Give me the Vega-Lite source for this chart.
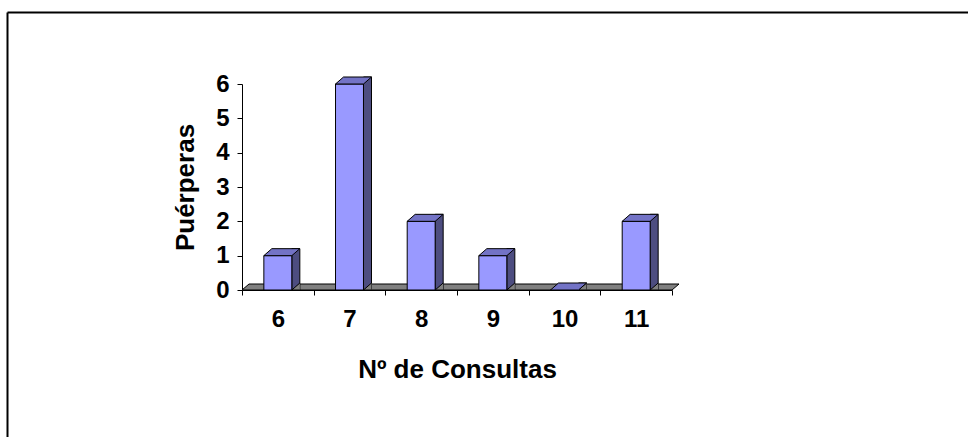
{
  "$schema": "https://vega.github.io/schema/vega-lite/v6.json",
  "width": 961,
  "height": 425,
  "autosize": {"type": "none"},
  "padding": {"left": 7, "top": 12, "right": 0, "bottom": 0},
  "background": "white",
  "config": {"view": {"stroke": null}, "font": "Liberation Sans"},
  "data": {"values": [
    {"consultas": 6, "puerperas": 1},
    {"consultas": 7, "puerperas": 6},
    {"consultas": 8, "puerperas": 2},
    {"consultas": 9, "puerperas": 1},
    {"consultas": 10, "puerperas": 0},
    {"consultas": 11, "puerperas": 2}
  ]},
  "resolve": {"scale": {"x": "independent", "y": "independent"}, "axis": {"x": "independent", "y": "independent"}},
  "layer": [
    {
      "mark": {"type": "point", "opacity": 0},
      "encoding": {
        "x": {"field": "puerperas", "type": "quantitative", "axis": {"orient": "top", "domain": true, "domainColor": "black", "domainWidth": 2, "ticks": false, "labels": false, "title": null, "grid": false}},
        "y": {"field": "puerperas", "type": "quantitative", "axis": {"orient": "left", "domain": true, "domainColor": "black", "domainWidth": 2, "ticks": false, "labels": false, "title": null, "grid": false}}
      }
    },
    {
      "encoding": {
        "x": {
          "field": "consultas", "type": "ordinal",
          "scale": {"range": [235, 665], "paddingInner": 0, "paddingOuter": 0},
          "axis": {"orient": "bottom", "offset": -147, "domainColor": "black", "domainWidth": 1, "tickColor": "black", "tickSize": 5, "tickBand": "extent", "labelAngle": 0, "labelFont": "Liberation Sans", "labelFontSize": 24, "labelFontWeight": "bold", "labelColor": "black", "labelPadding": 12, "title": "Nº de Consultas", "titleFont": "Liberation Sans", "titleFontSize": 26, "titleFontWeight": "bold", "titleColor": "black", "titlePadding": 25, "grid": false}
        },
        "y": {
          "field": "puerperas", "type": "quantitative",
          "scale": {"domain": [0, 6], "range": [278, 72], "nice": false},
          "axis": {"orient": "left", "offset": -235, "values": [0, 1, 2, 3, 4, 5, 6], "domainColor": "black", "domainWidth": 1, "tickColor": "black", "tickSize": 5, "labelFont": "Liberation Sans", "labelFontSize": 24, "labelFontWeight": "bold", "labelColor": "black", "labelPadding": 8, "title": "Puérperas", "titleFont": "Liberation Sans", "titleFontSize": 26, "titleFontWeight": "bold", "titleColor": "black", "titlePadding": 17, "grid": false}
        }
      },
      "layer": [
        {
          "mark": {"type": "point", "shape": "M-35.83,0 L394.17,0 L401.17,-6 L-28.83,-6 Z", "size": 4, "filled": true, "fill": "#808080", "stroke": "black", "strokeWidth": 1, "opacity": 1},
          "transform": [{"filter": "datum.consultas == 6"}],
          "encoding": {"y": {"datum": 0}}
        },
        {
          "mark": {"type": "bar", "width": 8, "xOffset": 18, "yOffset": -7, "y2Offset": 0, "fill": "#4D4D80", "stroke": "black", "strokeWidth": 1},
          "encoding": {"y2": {"datum": 0}}
        },
        {
          "mark": {"type": "point", "shape": "M22,0 L14,0 L22,-7", "size": 4, "filled": true, "fill": "#808080", "stroke": "black", "strokeWidth": 1, "opacity": 1},
          "encoding": {"y": {"datum": 0}}
        },
        {
          "mark": {"type": "bar", "width": {"band": 0.39}, "fill": "#9999FF", "stroke": "black", "strokeWidth": 1},
          "encoding": {"y2": {"datum": 0}}
        },
        {
          "mark": {"type": "point", "shape": "M-14,0 L14,0 L22,-7 L-6,-7 Z", "size": 4, "filled": true, "fill": "#7373C6", "stroke": "black", "strokeWidth": 1, "opacity": 1},
          "encoding": {}
        }
      ]
    }
  ]
}
